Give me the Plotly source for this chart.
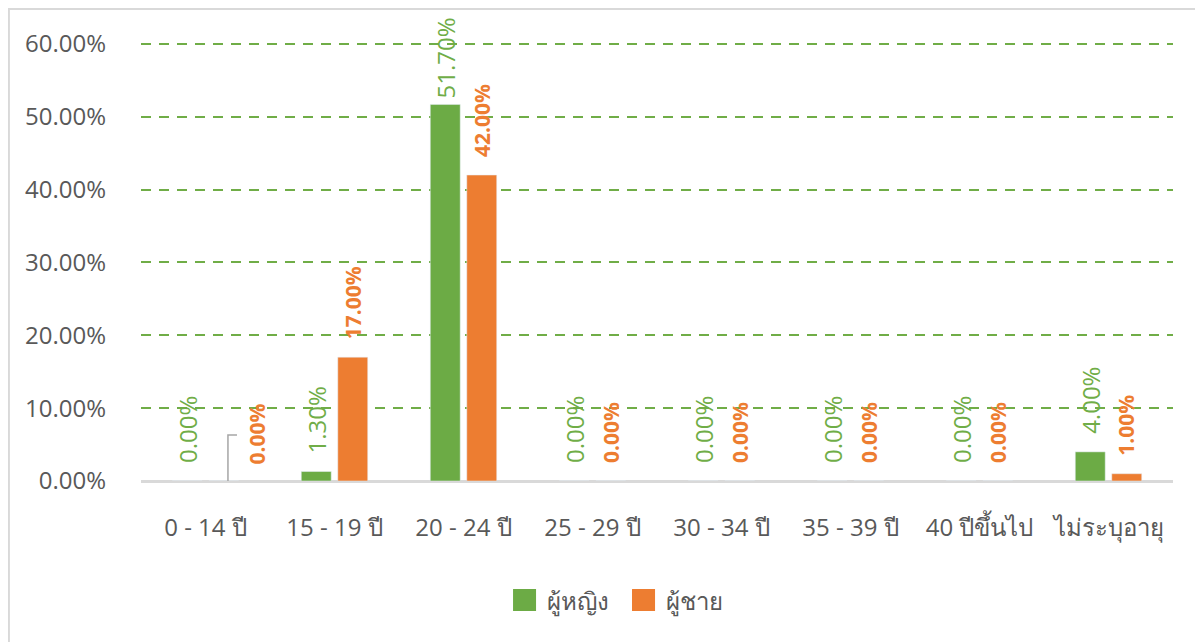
import plotly.graph_objects as go

categories = ["0 - 14 ปี", "15 - 19 ปี", "20 - 24 ปี", "25 - 29 ปี",
              "30 - 34 ปี", "35 - 39 ปี", "40 ปีขึ้นไป", "ไม่ระบุอายุ"]
female = [0.00, 1.30, 51.70, 0.00, 0.00, 0.00, 0.00, 4.00]
male = [0.00, 17.00, 42.00, 0.00, 0.00, 0.00, 0.00, 1.00]
series_names = ["ผู้หญิง", "ผู้ชาย"]

GREEN = "#70AD47"
ORANGE = "#ED7D31"
GREY = "#595959"
FONT = "Open Sans, Noto Sans, sans-serif"

fig = go.Figure()
fig.add_trace(go.Bar(
    x=categories, y=female, name=series_names[0],
    marker=dict(color="#6CAB45"),
    showlegend=False,
))
fig.add_trace(go.Bar(
    x=categories, y=male, name=series_names[1],
    marker=dict(color=ORANGE),
    showlegend=False,
))

# data labels (rotated, sitting a little above each bar)
for i, cat in enumerate(categories):
    fig.add_annotation(
        x=cat, y=female[i], xshift=-18, yshift=4 if female[i] > 50 else 16,
        text=f"{female[i]:.2f}%", textangle=-90, showarrow=False,
        yanchor="bottom", font=dict(color=GREEN, size=24, family=FONT),
    )
    if i == 0:
        continue
    fig.add_annotation(
        x=cat, y=male[i], xshift=18, yshift=16,
        text=f"{male[i]:.2f}%", textangle=-90, showarrow=False,
        yanchor="bottom", font=dict(color=ORANGE, size=21, family=FONT, weight="bold"),
    )

# male 0 - 14 label was dragged aside in the original, with a leader line
fig.add_annotation(
    x=categories[0], y=6.45, xshift=52, text=f"{male[0]:.2f}%",
    textangle=-90, showarrow=False,
    font=dict(color=ORANGE, size=21, family=FONT, weight="bold"),
)
fig.add_shape(
    type="path", xref="x", yref="y",
    path="M 0.174,0 L 0.174,6.3 L 0.244,6.3",
    line=dict(color="#A6A6A6", width=1.5),
)

# legend drawn by hand so the swatches match the original size
legend_items = [(series_names[0], "#6CAB45", 0.3605), (series_names[1], ORANGE, 0.4758)]
for name, color, x0 in legend_items:
    fig.add_shape(
        type="rect", xref="paper", yref="paper",
        x0=x0, x1=x0 + 0.0223, y0=-0.2955, y1=-0.2455,
        fillcolor=color, line=dict(width=0),
    )
    fig.add_annotation(
        x=x0 + 0.031, y=-0.2705, xref="paper", yref="paper",
        text=name, showarrow=False, xanchor="left", yanchor="middle",
        font=dict(color=GREY, size=24, family=FONT),
    )

# chart border
fig.add_shape(
    type="rect", xref="paper", yref="paper",
    x0=-0.128, x1=1.2, y0=-0.6, y1=1.073,
    line=dict(color="#D9D9D9", width=2), layer="below",
)

fig.update_layout(
    width=1195, height=634,
    margin=dict(l=133, r=30, t=33, b=161),
    paper_bgcolor="white", plot_bgcolor="white",
    barmode="group", bargap=0.434, bargroupgap=0.18,
    font=dict(family=FONT, color=GREY, size=24),
    xaxis=dict(
        showline=True, linecolor="#D9D9D9", linewidth=2,
        ticks="", ticklabelstandoff=24,
        tickfont=dict(size=24, color=GREY),
    ),
    yaxis=dict(
        range=[0, 60.4], dtick=10, tickformat=".2f", ticksuffix="%",
        showgrid=True, gridcolor=GREEN, gridwidth=2, griddash="10px,8px",
        zeroline=True, zerolinecolor="#D9D9D9", zerolinewidth=2,
        ticks="", ticklabelstandoff=34,
        tickfont=dict(size=24, color=GREY),
    ),
)

fig.write_html("out.html")
